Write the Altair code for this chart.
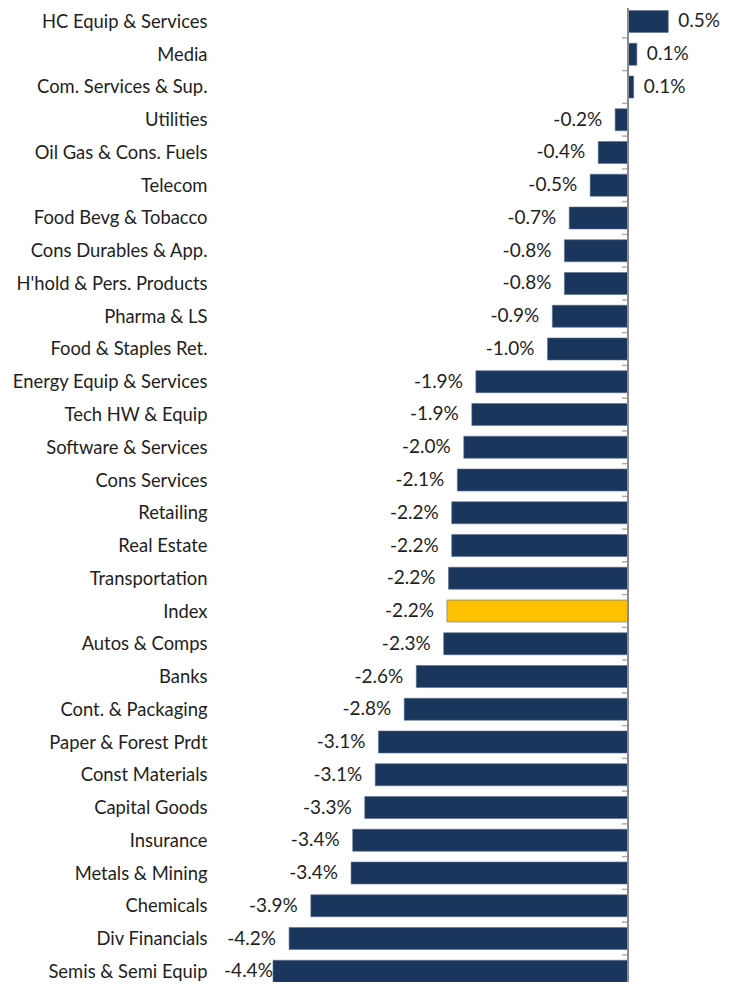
import json
import altair as alt
import pandas as pd

categories = ["HC Equip & Services", "Media", "Com. Services & Sup.", "Utilities",
              "Oil Gas & Cons. Fuels", "Telecom", "Food Bevg & Tobacco",
              "Cons Durables & App.", "H'hold & Pers. Products", "Pharma & LS",
              "Food & Staples Ret.", "Energy Equip & Services", "Tech HW & Equip",
              "Software & Services", "Cons Services", "Retailing", "Real Estate",
              "Transportation", "Index", "Autos & Comps", "Banks", "Cont. & Packaging",
              "Paper & Forest Prdt", "Const Materials", "Capital Goods", "Insurance",
              "Metals & Mining", "Chemicals", "Div Financials", "Semis & Semi Equip"]

values = [0.50, 0.11, 0.07, -0.16, -0.37, -0.47, -0.73, -0.79, -0.79, -0.94,
          -1.00, -1.89, -1.94, -2.04, -2.12, -2.19, -2.19, -2.23, -2.25, -2.29,
          -2.63, -2.78, -3.10, -3.14, -3.27, -3.42, -3.44, -3.94, -4.21, -4.41]

labels = ["0.5%", "0.1%", "0.1%", "-0.2%", "-0.4%", "-0.5%", "-0.7%", "-0.8%", "-0.8%",
          "-0.9%", "-1.0%", "-1.9%", "-1.9%", "-2.0%", "-2.1%", "-2.2%", "-2.2%", "-2.2%",
          "-2.2%", "-2.3%", "-2.6%", "-2.8%", "-3.1%", "-3.1%", "-3.3%", "-3.4%", "-3.4%",
          "-3.9%", "-4.2%", "-4.4%"]

highlight = "Index"

df = pd.DataFrame({
    "row": list(range(len(categories))),
    "category": categories,
    "value": values,
    "label": labels,
    "group": ["Index" if c == highlight else "Sector" for c in categories],
})
ticks_df = pd.DataFrame({"row": [i - 0.5 for i in range(len(categories) + 1)]})

FONT = "Lato"
CAT_FONT_SIZE = 18.4
VAL_FONT_SIZE = 19
TEXT_COLOR = "#1e1e1e"
AXIS_GRAY = "#8c8c8c"
LABEL_FLOOR = -4.25  # value labels are kept inside the plot area, as in the original

x_scale = alt.Scale(domain=[-5.093, 1.155], nice=False, zero=False, padding=0)
y_scale = alt.Scale(domain=[-0.412, 29.328], nice=False, zero=False, reverse=True, padding=0)

cat_axis = alt.Axis(values=list(range(len(categories))),
                    labelExpr=json.dumps(categories) + "[datum.value]",
                    tickCount=len(categories),
                    ticks=False, domain=False, grid=False, title=None,
                    labelPadding=11, labelFont=FONT, labelFontSize=CAT_FONT_SIZE,
                    labelColor=TEXT_COLOR, labelAlign="right", labelLimit=0,
                    labelOverlap=False, labelBound=False, labelFlush=False)

Y = alt.Y("row:Q", scale=y_scale, axis=cat_axis)
X = alt.X("value:Q", scale=x_scale, axis=None)
X0 = alt.X(datum=0, type="quantitative", scale=x_scale, axis=None)

base = alt.Chart(df)

bars = base.mark_bar(size=22, stroke="#5d7190", strokeWidth=0.6, clip=True).encode(
    x=X,
    x2=alt.datum(0),
    y=Y,
    color=alt.Color("group:N", scale=alt.Scale(domain=["Sector", "Index"],
                                               range=["#1a365d", "#ffc000"]),
                    legend=None),
)

pos_text = base.transform_filter("datum.value >= 0").mark_text(
    align="left", baseline="middle", dx=10, font=FONT, fontSize=VAL_FONT_SIZE, color=TEXT_COLOR
).encode(x=X, y=Y, text="label:N")

neg_text = base.transform_filter("datum.value < 0").transform_calculate(
    lx=f"max(datum.value, {LABEL_FLOOR})"
).mark_text(
    align="right", baseline="middle", dx=-13, font=FONT, fontSize=VAL_FONT_SIZE, color=TEXT_COLOR
).encode(x=alt.X("lx:Q", scale=x_scale, axis=None), y=Y, text="label:N")

zero_line = alt.Chart(df).mark_rule(color=AXIS_GRAY, strokeWidth=1.6).encode(x=X0)

tick_marks = alt.Chart(ticks_df).mark_tick(
    orient="horizontal", size=6, thickness=1.5, xOffset=-3, color=AXIS_GRAY, clip=True
).encode(x=X0, y=Y)

chart = alt.layer(bars, zero_line, tick_marks, pos_text, neg_text).properties(
    width=503,
    height=974,
    autosize=alt.AutoSizeParams(type="none"),
    padding={"left": 210, "top": 0, "right": 0, "bottom": 0},
).configure_view(stroke=None)

chart.save("out.html", embed_options={"renderer": "svg", "actions": False})
